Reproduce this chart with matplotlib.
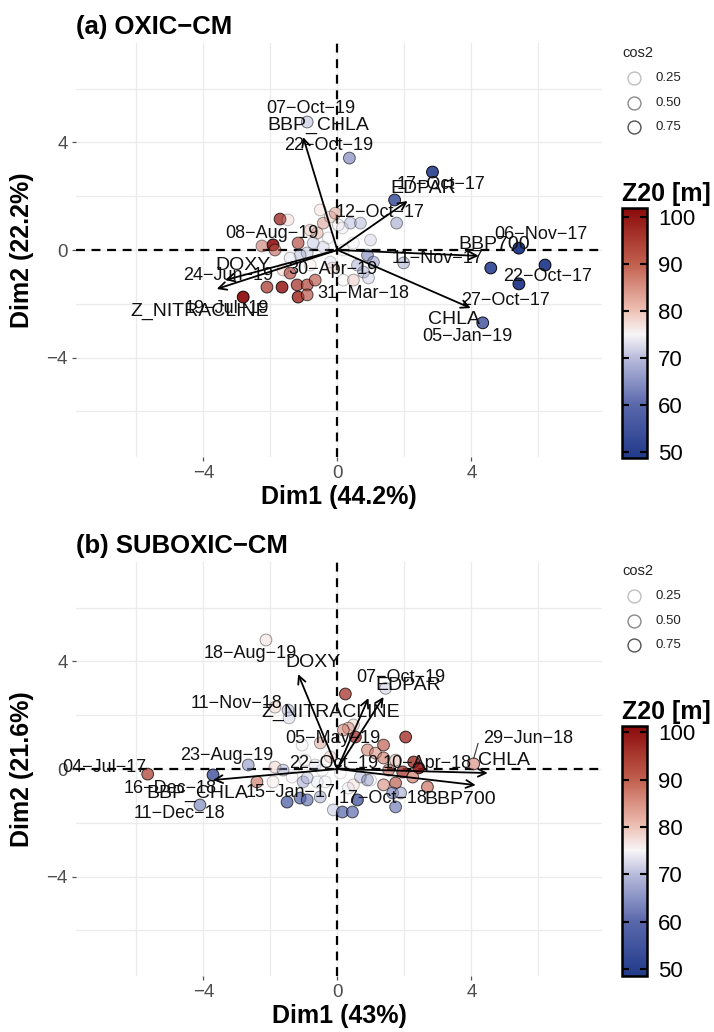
import numpy as np
import matplotlib
matplotlib.use('agg')
import matplotlib.pyplot as plt
from matplotlib.colors import LinearSegmentedColormap, Normalize
from matplotlib.lines import Line2D
import matplotlib.cm as cm

plt.rcParams['font.family'] = ['Liberation Sans', 'DejaVu Sans']

# ---------------- (a) OXIC-CM ----------------
oxic_x = [-0.90, 0.36, 1.71, 1.77, 2.84, 5.42, 6.20, 4.58, 5.42, 4.34,
          1.98, -1.71, -1.47, -1.92, -1.86, -1.17, -0.90, -0.60, -0.42, -0.21,
          0.03, 0.39, 0.69, 0.99, 0.48, 0.18, -1.11, 0.90, 1.08, -1.62,
          -1.41, -2.10, -1.65, -1.20, -0.90, -0.66, -1.17, -0.90, -2.81, -0.15,
          0.18, 0.48, 0.78, 0.93, -0.42, -0.72, 0.15, -0.27, -0.81, -0.06,
          -0.51, -0.21, 0.60, -1.41, -2.25, -0.81]
oxic_y = [4.76, 3.42, 1.86, 1.00, 2.90, 0.07, -0.56, -0.67, -1.26, -2.71,
          -0.48, 1.15, 1.12, 0.19, 0.00, 0.26, -0.11, 0.63, 1.00, 1.23,
          0.93, 1.00, 1.00, 0.37, 0.26, 0.00, -0.19, -0.19, -0.45, -0.74,
          -0.86, -1.38, -1.38, -1.30, -1.30, -1.12, -1.75, -1.67, -1.75, -0.67,
          -1.12, -1.12, -0.82, -1.04, 0.11, 0.26, 0.82, 0.45, 0.74, 1.37,
          1.49, -0.45, -0.56, -0.30, 0.15, -0.56]
oxic_z20 = [70, 62, 54, 64, 52, 50, 52, 53, 51, 58,
            66, 99, 82, 101, 92, 94, 68, 86, 88, 84,
            76, 66, 65, 68, 73, 75, 66, 60, 62, 82,
            94, 95, 100, 96, 94, 92, 97, 93, 101, 82,
            76, 82, 66, 70, 68, 67, 72, 74, 85, 88,
            80, 70, 64, 72, 93, 78]
oxic_cos2 = [0.50, 0.55, 0.80, 0.40, 0.90, 0.95, 0.95, 0.90, 0.95, 0.85,
             0.40, 0.70, 0.20, 0.85, 0.50, 0.60, 0.30, 0.30, 0.35, 0.25,
             0.20, 0.30, 0.30, 0.20, 0.10, 0.10, 0.30, 0.45, 0.35, 0.25,
             0.60, 0.70, 0.80, 0.70, 0.65, 0.60, 0.80, 0.60, 0.90, 0.20,
             0.20, 0.30, 0.35, 0.30, 0.20, 0.25, 0.15, 0.15, 0.25, 0.30,
             0.20, 0.15, 0.30, 0.25, 0.40, 0.15]
oxic_ind_labels = ['07−Oct−19', '22−Oct−19', '12−Oct−17', '17−Oct−17', '06−Nov−17',
                   '22−Oct−17', '27−Oct−17', '05−Jan−19', '11−Nov−17', '31−Mar−18',
                   '30−Apr−19', '08−Aug−19', '24−Jun−19', '19−Jul−19']
oxic_ind_lab_x = [-0.78, -0.27, 1.29, 3.08, 6.08, 6.29, 5.03, 3.89, 3.00, 0.78,
                  -0.12, -1.95, -3.26, -3.29]
oxic_ind_lab_y = [5.28, 3.87, 1.38, 2.42, 0.56, -1.00, -1.86, -3.20, -0.30, -1.60,
                  -0.74, 0.63, -0.93, -2.16]
oxic_vars = ['BBP_CHLA', 'EDPAR', 'BBP700', 'CHLA', 'DOXY', 'Z_NITRACLINE']
oxic_var_x = [-1.02, 2.10, 4.22, 3.98, -3.35, -3.60]
oxic_var_y = [4.20, 1.82, -0.22, -2.16, -1.12, -1.45]
oxic_var_lab_x = [-0.57, 2.57, 4.67, 3.47, -2.81, -4.10]
oxic_var_lab_y = [4.65, 2.30, 0.19, -2.60, -0.56, -2.30]

# ---------------- (b) SUBOXIC-CM ----------------
sub_x = [-2.13, 0.24, -1.86, -1.47, -1.44, 0.48, 0.33, 0.54, 0.18, -0.51,
         -1.05, -2.66, -1.86, -1.62, -3.71, -5.66, -4.10, -2.40, -1.92, -1.35,
         -1.02, -0.90, -0.60, -0.36, -1.11, -1.50, -0.90, -0.51, -0.12, 0.15,
         0.45, 0.60, 0.09, 0.48, 0.69, 0.90, 0.33, 0.90, 1.14, 1.38,
         2.04, 1.95, 2.28, 2.43, 2.25, 1.74, 1.38, 1.65, 1.74, 1.89,
         2.69, 4.07, 0.99, -0.21, -0.66, -0.45, 1.38, 1.74, 1.53, -0.96,
         1.44]
sub_y = [4.80, 2.79, 2.30, 2.19, 1.90, 1.64, 1.52, 1.19, 1.45, 0.97,
         0.89, 0.15, 0.07, -0.04, -0.22, -0.19, -1.34, -0.48, -0.48, -0.30,
         -0.48, -0.33, -0.48, -0.48, -1.08, -1.23, -1.15, -1.04, -1.52, -1.60,
         -1.60, -1.15, -0.15, -0.59, -0.30, -0.41, -0.71, 0.71, 0.59, 0.41,
         1.19, -0.11, 0.26, 0.04, -0.30, -0.52, -0.59, -0.89, -1.41, -0.89,
         -0.67, 0.19, -0.41, 0.45, 0.15, -0.04, 0.89, 0.33, -0.04, 0.33,
         3.00]
sub_z20 = [78, 96, 80, 68, 70, 80, 86, 97, 88, 86,
           74, 64, 80, 66, 56, 94, 63, 88, 78, 74,
           62, 68, 72, 74, 56, 55, 58, 66, 68, 56,
           58, 54, 76, 80, 66, 60, 72, 88, 86, 88,
           96, 95, 97, 100, 88, 92, 86, 60, 60, 66,
           88, 84, 74, 84, 70, 75, 92, 82, 90, 76,
           70]
sub_cos2 = [0.35, 0.70, 0.30, 0.40, 0.25, 0.30, 0.40, 0.70, 0.45, 0.35,
            0.15, 0.50, 0.30, 0.35, 0.80, 0.70, 0.60, 0.60, 0.20, 0.15,
            0.30, 0.30, 0.15, 0.15, 0.60, 0.65, 0.55, 0.40, 0.30, 0.60,
            0.60, 0.70, 0.10, 0.20, 0.30, 0.35, 0.15, 0.50, 0.50, 0.55,
            0.75, 0.70, 0.75, 0.80, 0.60, 0.60, 0.55, 0.50, 0.55, 0.45,
            0.65, 0.70, 0.15, 0.20, 0.15, 0.10, 0.60, 0.40, 0.50, 0.15,
            0.35]
sub_ind_labels = ['18−Aug−19', '11−Nov−18', '07−Oct−19', '05−May−19', '23−Aug−19',
                  '04−Jul−17', '16−Dec−18', '11−Dec−18', '22−Oct−19', '10−Apr−18',
                  '29−Jun−18', '17−Oct−18', '15−Jan−17']
sub_ind_lab_x = [-2.60, -3.00, 1.89, -0.12, -3.29, -6.95, -5.00, -4.70, -0.12, 2.69,
                 5.69, 1.38, -1.41]
sub_ind_lab_y = [4.31, 2.45, 3.42, 1.15, 0.52, 0.07, -0.71, -1.67, 0.22, 0.22,
                 1.12, -1.08, -0.89]
sub_vars = ['DOXY', 'Z_NITRACLINE', 'EDPAR', 'CHLA', 'BBP700', 'BBP_CHLA']
sub_var_x = [-1.17, 0.93, 1.38, 4.49, 4.13, -3.71]
sub_var_y = [3.53, 2.64, 2.68, -0.15, -0.60, -0.41]
sub_var_lab_x = [-0.72, -0.21, 2.13, 4.97, 3.68, -4.19]
sub_var_lab_y = [3.98, 2.12, 3.12, 0.33, -1.15, -0.89]

cos2_breaks = [0.25, 0.50, 0.75]

W, H = 714, 1032


def fx(px):
    return px / W


def fy(py):
    return 1 - py / H


def z20_cmap(vmin, vmax):
    stops = [(60, '#5a68ac'), (70, '#b9bcdc'), (75, '#f7f5f7'),
             (80, '#efc2b6'), (90, '#c2604f')]
    lst = [(0.0, '#213a8a')]
    for v, c in stops:
        lst.append(((v - vmin) / (vmax - vmin), c))
    lst.append((1.0, '#8b0a0a'))
    return LinearSegmentedColormap.from_list('z20', lst)


def alpha_of(c):
    c = np.asarray(c, dtype=float)
    return np.clip(0.1 + 0.9 * (c - 0.05) / 0.9, 0.08, 1.0)


def draw_panel(top, x, y, z, cos2, lab, lab_x, lab_y, vars_, vx, vy, vlx, vly,
               vmin, vmax, title, xlab, ylab, leg_top):
    ax = fig.add_axes([fx(76), fy(top + 414), fx(602) - fx(76), 414 / H])
    ax.set_xlim(-7.8, 7.9)
    ax.set_ylim(-7.7, 7.7)
    ax.set_xticks([-4, 0, 4])
    ax.set_yticks([-4, 0, 4])
    ax.set_xticks([-6, -2, 2, 6], minor=True)
    ax.set_yticks([-6, -2, 2, 6], minor=True)
    ax.grid(True, which='both', color='#EBEBEB', lw=0.9, zorder=0)
    ax.set_axisbelow(True)
    for s in ax.spines.values():
        s.set_visible(False)
    ax.tick_params(which='major', length=3, color='#555555', width=0.9,
                   labelsize=13.5, labelcolor='#4D4D4D', pad=3)
    ax.tick_params(which='minor', length=0)
    ax.set_xticklabels(['−4', '0', '4'])
    ax.set_yticklabels(['−4', '0', '4'])
    ax.axhline(0, color='black', lw=1.6, ls=(0, (4, 3)), zorder=1)
    ax.axvline(0, color='black', lw=1.6, ls=(0, (4, 3)), zorder=1)

    cmap = z20_cmap(vmin, vmax)
    norm = Normalize(vmin, vmax)
    a = alpha_of(cos2)
    fc = cmap(norm(np.asarray(z, dtype=float)))
    fc[:, 3] = a
    ec = np.zeros_like(fc)
    ec[:, 3] = a
    ax.scatter(x, y, s=72, facecolors=fc, edgecolors=ec, linewidths=0.7, zorder=3)

    for t, tx, ty in zip(lab, lab_x, lab_y):
        ax.text(tx, ty, t, fontsize=13, ha='center', va='center',
                color='#111111', zorder=4)

    for name, ex, ey, lx, ly in zip(vars_, vx, vy, vlx, vly):
        ax.annotate('', xy=(ex, ey), xytext=(0, 0),
                    arrowprops=dict(arrowstyle='->', lw=1.3, color='black',
                                    mutation_scale=14, shrinkA=0, shrinkB=0),
                    zorder=5)
        ax.text(lx, ly, name, fontsize=14, ha='center', va='center',
                color='#111111', zorder=5)

    ax.set_xlabel(xlab, fontsize=18, fontweight='bold')
    ax.xaxis.set_label_coords(0.5, -0.068)
    ax.set_ylabel(ylab, fontsize=18, fontweight='bold')
    ax.yaxis.set_label_coords((34 - 76) / 526, 0.5)
    fig.text(fx(76), fy(top - 9), title, fontsize=18.5, fontweight='bold',
             va='baseline', ha='left')

    # cos2 legend
    fig.text(fx(622), fy(leg_top + 15), 'cos2', fontsize=10.5, color='#222222',
             va='baseline')
    for i, b in enumerate(cos2_breaks):
        yy = leg_top + 36 + i * 24.5
        fig.add_artist(Line2D([fx(634)], [fy(yy)], marker='o', ms=9.3,
                              mfc='white', mec=(0, 0, 0, float(alpha_of(b)) * 0.85),
                              mew=1.0, transform=fig.transFigure))
        fig.text(fx(655), fy(yy), f'{b:.2f}', fontsize=9.5, color='#222222',
                 va='center')

    # colour bar
    cb_top = leg_top + 166
    fig.text(fx(622), fy(cb_top - 7), 'Z20 [m]', fontsize=18, fontweight='bold',
             va='baseline')
    cax = fig.add_axes([fx(622), fy(cb_top + 250), 25 / W, 250 / H])
    cb = fig.colorbar(cm.ScalarMappable(norm=norm, cmap=cmap), cax=cax,
                      ticks=[50, 60, 70, 80, 90, 100])
    cb.outline.set_linewidth(1.8)
    cax.tick_params(direction='in', length=5, width=1.5, left=True, right=True,
                    labelsize=16, pad=8, color='black')
    return ax


fig = plt.figure(figsize=(7.14, 10.32), dpi=100)

draw_panel(43, oxic_x, oxic_y, oxic_z20, oxic_cos2, oxic_ind_labels,
           oxic_ind_lab_x, oxic_ind_lab_y, oxic_vars, oxic_var_x, oxic_var_y,
           oxic_var_lab_x, oxic_var_lab_y, 48.7, 101.9,
           '(a) OXIC−CM', 'Dim1 (44.2%)', 'Dim2 (22.2%)', 42)

ax_b = draw_panel(562, sub_x, sub_y, sub_z20, sub_cos2, sub_ind_labels,
                  sub_ind_lab_x, sub_ind_lab_y, sub_vars, sub_var_x, sub_var_y,
                  sub_var_lab_x, sub_var_lab_y, 48.5, 101.3,
                  '(b) SUBOXIC−CM', 'Dim1 (43%)', 'Dim2 (21.6%)', 560)

# repel segment for 29-Jun-18
ax_b.plot([sub_x[51], 4.2], [sub_y[51] + 0.2, 0.95], color='#333333', lw=0.8, zorder=4)

fig.savefig('out.png', dpi=100)
